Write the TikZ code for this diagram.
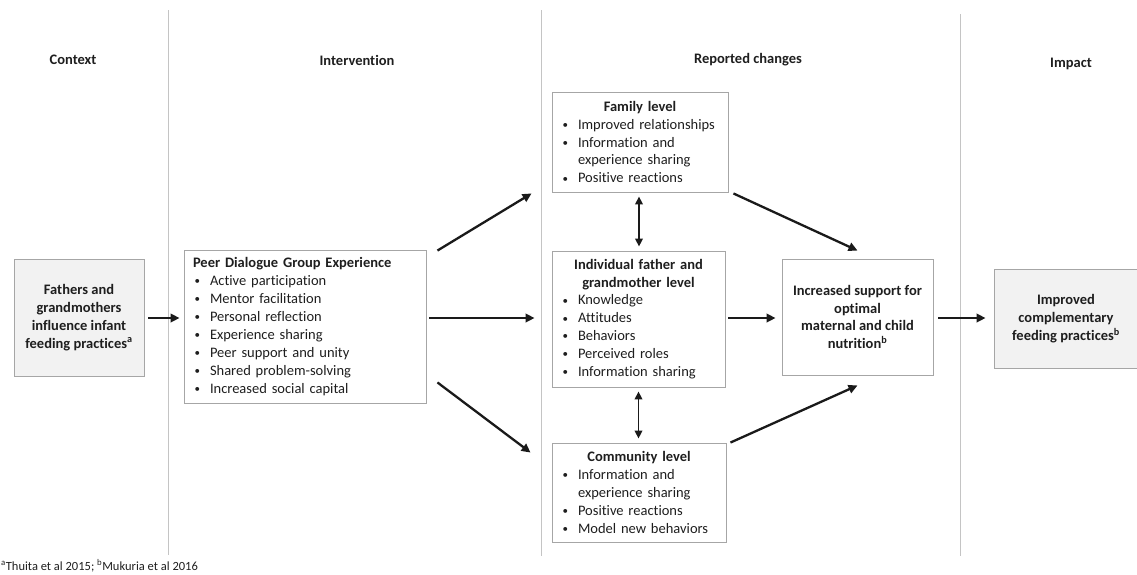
\documentclass[tikz,border=0pt]{standalone}
\usepackage{fontspec}
\setmainfont{Carlito}[Ligatures=NoCommon]
\usetikzlibrary{arrows.meta,calc}
\definecolor{boxline}{HTML}{A6A6A6}
\definecolor{boxfill}{HTML}{F2F2F2}
\definecolor{sepline}{HTML}{C4C4C4}
\definecolor{txt}{HTML}{1E1E1E}
\definecolor{arrc}{HTML}{1A1A1A}
\newcommand\bl{\makebox[17pt][l]{\hspace{1.5pt}\raisebox{0.8pt}{\fontsize{11}{11}\selectfont•}}}
\newcommand\cont{\hspace*{17pt}}
\newcommand\ttl[1]{\makebox[\linewidth]{\bfseries #1}}
\tikzset{
  box/.style={draw=boxline, line width=0.9pt, inner sep=0pt, text=txt},
  lst/.style={box, align=left, inner xsep=9pt},
  cbox/.style={box, align=center, font=\fontsize{14.5}{17.9}\selectfont\bfseries},
  gbox/.style={cbox, fill=boxfill},
  arr/.style={-{Triangle[length=9pt,width=8.5pt]}, line width=2.3pt, draw=arrc},
  darr/.style={{Triangle[length=8pt,width=7.5pt]}-{Triangle[length=8pt,width=7.5pt]}, line width=1.9pt, draw=arrc},
  sep/.style={draw=sepline, line width=0.8pt},
  hdr/.style={text=txt, font=\fontsize{14.5}{17.9}\selectfont\bfseries},
}
\begin{document}
\begin{tikzpicture}[x=1pt, y=-1pt, font=\fontsize{14.5}{17.9}\selectfont]
\useasboundingbox (0,0) rectangle (1137,574);
% separators
\draw[sep] (168,10) -- (168,555);
\draw[sep] (541,10) -- (541,556);
\draw[sep] (960,14) -- (960,556);
% headers
\node[hdr] (hctx) at (73,60) {Context};
\node[hdr] (hint) at (357,60) {Intervention};
\node[hdr] (hrep) at (748,60) {Reported changes};
\node[hdr] (himp) at (1071,64) {Impact};
% boxes
\node[gbox, minimum width=130pt, minimum height=117pt] (ctx) at (79,317.5)
  {Fathers and\\grandmothers\\influence infant\\feeding practices\textsuperscript{a}};
\node[lst, text width=224pt, minimum height=153pt] (peer) at (305,326.5)
  {\textbf{Peer Dialogue Group Experience}\\
   \bl Active participation\\
   \bl Mentor facilitation\\
   \bl Personal reflection\\
   \bl Experience sharing\\
   \bl Peer support and unity\\
   \bl Shared problem-solving\\
   \bl Increased social capital};
\node[lst, text width=158pt, minimum height=100pt] (family) at (640,142)
  {\ttl{Family level}\\
   \bl Improved relationships\\
   \bl Information and\\
   \cont experience sharing\\
   \bl Positive reactions};
\node[lst, text width=155pt, minimum height=136pt] (indiv) at (638.5,319)
  {\ttl{Individual father and}\\
   \ttl{grandmother level}\\
   \bl Knowledge\\
   \bl Attitudes\\
   \bl Behaviors\\
   \bl Perceived roles\\
   \bl Information sharing};
\node[lst, text width=156pt, minimum height=99pt] (comm) at (639,492.5)
  {\ttl{Community level}\\
   \bl Information and\\
   \cont experience sharing\\
   \bl Positive reactions\\
   \bl Model new behaviors};
\node[cbox, minimum width=151pt, minimum height=116pt] (support) at (857.5,317)
  {Increased support for\\optimal\\maternal and child\\nutrition\textsuperscript{b}};
\node[gbox, minimum width=144pt, minimum height=99pt] (improved) at (1066,318.5)
  {Improved\\complementary\\feeding practices\textsuperscript{b}};
% connectors
\draw[arr] ([xshift=4pt]ctx.east |- 0,318) -- ([xshift=-4pt]peer.west |- 0,318);
\draw[arr] ($(peer.north east)+(11,1)$) -- ($(family.south west)+(-20,1)$);
\draw[arr] ([xshift=3pt]peer.east |- 0,318) -- ([xshift=-17pt]indiv.west |- 0,318);
\draw[arr] ($(peer.south east)+(11,-21)$) -- ($(comm.north west)+(-21,10)$);
\draw[darr] ($(family.south)+(-1,4)$) -- ($(family.south |- indiv.north)+(-1,-4)$);
\draw[darr] ($(indiv.south)+(0,4)$) -- ($(indiv.south |- comm.north)+(0,-4)$);
\draw[arr] ($(family.south east)+(5,1)$) -- ($(support.north)+(0,-8)$);
\draw[arr] ([xshift=3pt]indiv.east |- 0,318) -- ([xshift=-6pt]support.west |- 0,318);
\draw[arr] ($(comm.north east)+(4,0)$) -- ($(support.south)+(0,10)$);
\draw[arr] ([xshift=5pt]support.east |- 0,318) -- ([xshift=-8pt]improved.west |- 0,318);
% footnote
\node[anchor=base west, inner sep=0pt, text=txt, font=\fontsize{12.5}{14}\selectfont] (foot) at (1,570)
  {\textsuperscript{a}Thuita et al 2015; \textsuperscript{b}Mukuria et al 2016};
\end{tikzpicture}
\end{document}
